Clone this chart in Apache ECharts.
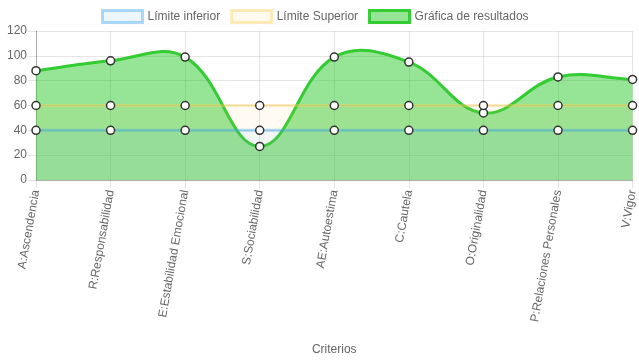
<!DOCTYPE html>
<html><head><meta charset="utf-8">
<script src="https://cdn.jsdelivr.net/npm/echarts@6/dist/echarts.min.js"></script>
<style>html,body{margin:0;padding:0;background:#fff}#c{width:639px;height:360px}</style>
</head><body><div id="c"></div>
<script>
const categories = ["A:Ascendencia","R:Responsabilidad","E:Estabilidad Emocional","S:Sociabilidad","AE:Autoestima","C:Cautela","O:Originalidad","P:Relaciones Personales","V:Vigor"];
const limiteInferior = [40,40,40,40,40,40,40,40,40];
const limiteSuperior = [60,60,60,60,60,60,60,60,60];
const resultados = [88,96,99,27,99,95,54,83,81];
const yTicks = {min:0, max:120, interval:20};

const font = '"Liberation Sans", Arial, Helvetica, sans-serif';
const GREEN_LINE = '#33cc33';
const GREEN_FILL = 'rgba(46,204,46,0.5)';
const TENSION = 0.4;

// Cardinal spline (same scheme as Chart.js) on pixel points obtained from the axes.
function splinePathData(pts, bottomY, closeArea) {
  const n = pts.length;
  const cps = pts.map((p, i) => {
    const prev = pts[Math.max(0, i - 1)];
    const next = pts[Math.min(n - 1, i + 1)];
    const d01 = Math.hypot(p[0] - prev[0], p[1] - prev[1]);
    const d12 = Math.hypot(next[0] - p[0], next[1] - p[1]);
    const sum = d01 + d12 || 1;
    const fa = TENSION * d01 / sum, fb = TENSION * d12 / sum;
    return {
      prev: [p[0] - fa * (next[0] - prev[0]), p[1] - fa * (next[1] - prev[1])],
      next: [p[0] + fb * (next[0] - prev[0]), p[1] + fb * (next[1] - prev[1])]
    };
  });
  let d = 'M' + pts[0][0] + ' ' + pts[0][1];
  for (let i = 1; i < n; i++) {
    const a = cps[i - 1].next, b = cps[i].prev, p = pts[i];
    d += ' C' + a[0] + ' ' + a[1] + ' ' + b[0] + ' ' + b[1] + ' ' + p[0] + ' ' + p[1];
  }
  if (closeArea) {
    d += ' L' + pts[n - 1][0] + ' ' + bottomY + ' L' + pts[0][0] + ' ' + bottomY + ' Z';
  }
  return d;
}

const chart = echarts.init(document.getElementById('c'), null, {renderer:'canvas'});
const sym = {color:'#fff', borderColor:'#333', borderWidth:1.5};
chart.setOption({
  animation:false,
  textStyle:{fontFamily:font},
  legend:{
    top:9, left:101, padding:0, itemWidth:40, itemHeight:12, itemGap:10,
    textStyle:{fontSize:12,color:'#666',fontFamily:font},
    data:[
      {name:'Límite inferior', icon:'rect', itemStyle:{color:'rgba(54,162,235,0.1)', borderColor:'rgba(54,162,235,0.4)', borderWidth:3}},
      {name:'Límite Superior', icon:'rect', itemStyle:{color:'rgba(255,205,86,0.1)', borderColor:'rgba(255,205,86,0.4)', borderWidth:3}},
      {name:'Gráfica de resultados', icon:'rect', itemStyle:{color:GREEN_FILL, borderColor:GREEN_LINE, borderWidth:3}}
    ]
  },
  grid:{left:36, right:4, top:31, bottom:180, containLabel:false},
  xAxis:{
    type:'category', data:categories, boundaryGap:false,
    name:'Criterios', nameLocation:'middle', nameGap:164,
    nameTextStyle:{fontSize:12,color:'#666',fontFamily:font},
    axisLine:{show:true, lineStyle:{color:'rgba(0,0,0,0.25)'}},
    axisTick:{show:true, length:8, lineStyle:{color:'rgba(0,0,0,0.1)'}},
    splitLine:{show:true, lineStyle:{color:'rgba(0,0,0,0.1)'}},
    axisLabel:{rotate:80, margin:10, fontSize:12, color:'#666', fontFamily:font}
  },
  yAxis:{
    type:'value', min:yTicks.min, max:yTicks.max, interval:yTicks.interval,
    axisLine:{show:true, lineStyle:{color:'rgba(0,0,0,0.25)'}},
    axisTick:{show:true, length:8, lineStyle:{color:'rgba(0,0,0,0.1)'}},
    splitLine:{show:true, lineStyle:{color:'rgba(0,0,0,0.1)'}},
    axisLabel:{margin:9, fontSize:12, color:'#666', fontFamily:font}
  },
  series:[
    {name:'Gráfica de resultados', type:'custom', coordinateSystem:'cartesian2d',
     data: resultados.map((v, i) => [i, v]),
     encode:{x:0, y:1},
     renderItem: function (params, api) {
       if (params.dataIndex !== 0) return null;
       const pts = resultados.map((v, i) => api.coord([i, v]));
       const bottomY = api.coord([0, yTicks.min])[1];
       return {
         type:'group',
         children:[
           {type:'path', shape:{pathData:splinePathData(pts, bottomY, true)},
            style:{fill:GREEN_FILL, stroke:null}},
           {type:'path', shape:{pathData:splinePathData(pts, bottomY, false)},
            style:{fill:null, stroke:GREEN_LINE, lineWidth:3}}
         ]
       };
     }},
    {name:'Gráfica de resultados', type:'line', data:resultados,
     symbol:'circle', symbolSize:8, showAllSymbol:true, itemStyle:sym,
     lineStyle:{width:0, opacity:0}},
    {name:'Límite Superior', type:'line', data:limiteSuperior,
     symbol:'circle', symbolSize:8, itemStyle:sym,
     lineStyle:{color:'rgba(255,205,86,0.4)', width:3},
     areaStyle:{color:'rgba(255,205,86,0.1)', origin:'start'}},
    {name:'Límite inferior', type:'line', data:limiteInferior,
     symbol:'circle', symbolSize:8, itemStyle:sym,
     lineStyle:{color:'rgba(54,162,235,0.4)', width:3},
     areaStyle:{color:'rgba(54,162,235,0.1)', origin:'start'}}
  ]
});
</script></body></html>
